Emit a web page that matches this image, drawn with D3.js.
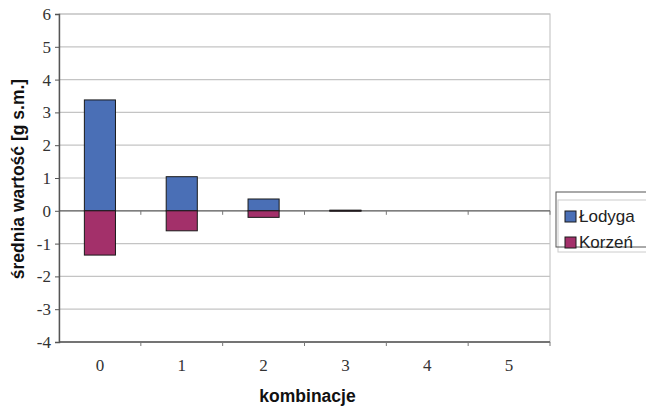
<!DOCTYPE html>
<html lang="pl">
<head>
<meta charset="UTF-8"/>
<title>Średnia wartość</title>
<script src="https://d3js.org/d3.v7.min.js"></script>
<style>
  body { margin: 0; background: #fff; overflow: hidden; }
  svg { display: block; }
  .title { font-family: "Liberation Sans", Arial, sans-serif; font-size: 17.5px; font-weight: bold; fill: #111; }
  .legend text { font-family: "Liberation Sans", Arial, sans-serif; font-size: 17px; fill: #222; }
</style>
</head>
<body>
<svg width="646" height="406"></svg>
<script>
  // data
  const categories = ['0', '1', '2', '3', '4', '5'];
  const lodyga = [3.38, 1.04, 0.36, 0.02, 0, 0];
  const korzen = [-1.35, -0.61, -0.2, -0.01, 0, 0];
  const yTicks = [-4, -3, -2, -1, 0, 1, 2, 3, 4, 5, 6];
  const seriesNames = ['Łodyga', 'Korzeń'];
  const seriesColors = ['#4a6fb6', '#a3306a'];

  const svg = d3.select('svg');

  const plotL = 59, plotR = 550, plotT = 14, plotB = 342;
  const serif = '"Liberation Serif", "Times New Roman", serif';

  const x = d3.scaleBand()
    .domain(categories)
    .range([plotL, plotR])
    .padding(0);

  const y = d3.scaleLinear()
    .domain([-4, 6])
    .range([plotB, plotT]);

  const barW = x.bandwidth() * 0.38;

  // plot area
  svg.append('rect')
    .attr('x', plotL).attr('y', plotT)
    .attr('width', plotR - plotL).attr('height', plotB - plotT)
    .attr('fill', '#fff')
    .attr('stroke', '#bdbdbd');

  // gridlines
  svg.append('g')
    .selectAll('line')
    .data(yTicks)
    .enter()
    .append('line')
    .attr('x1', plotL).attr('x2', plotR)
    .attr('y1', d => y(d)).attr('y2', d => y(d))
    .attr('stroke', (d) => d === 0 ? '#555' : '#c4c4c4')
    .attr('stroke-width', 1.2);

  // y axis
  const yAxis = svg.append('g')
    .attr('transform', `translate(${plotL},0)`)
    .call(d3.axisLeft(y).tickValues(yTicks).tickSize(4).tickPadding(4).tickFormat(d => String(d)));
  yAxis.select('.domain').attr('stroke', '#555').attr('stroke-width', 1.4);
  yAxis.selectAll('.tick line').attr('stroke', '#555');
  yAxis.selectAll('.tick text')
    .style('font-family', serif)
    .style('font-size', '17px')
    .attr('fill', '#333');

  // bottom line and category ticks
  svg.append('line')
    .attr('x1', plotL).attr('x2', plotR)
    .attr('y1', plotB).attr('y2', plotB)
    .attr('stroke', '#555').attr('stroke-width', 1.4);

  const bounds = categories.slice(1).map(c => x(c)).concat([plotR]);
  [y(0), plotB].forEach(yy => {
    svg.append('g')
      .selectAll('line')
      .data(bounds)
      .enter()
      .append('line')
      .attr('x1', d => d).attr('x2', d => d)
      .attr('y1', yy).attr('y2', yy + 4)
      .attr('stroke', '#777');
  });

  svg.append('g')
    .selectAll('text')
    .data(categories)
    .enter()
    .append('text')
    .style('font-family', serif)
    .style('font-size', '17px')
    .attr('fill', '#333')
    .attr('x', d => x(d) + x.bandwidth() / 2)
    .attr('y', 371)
    .attr('text-anchor', 'middle')
    .text(d => d);

  // bars
  const series = [lodyga, korzen];
  series.forEach((vals, s) => {
    svg.append('g')
      .selectAll('rect')
      .data(categories)
      .enter()
      .filter((c, i) => vals[i] !== 0)
      .append('rect')
      .attr('x', c => x(c) + (x.bandwidth() - barW) / 2)
      .attr('y', c => y(Math.max(0, vals[categories.indexOf(c)])))
      .attr('width', barW)
      .attr('height', c => Math.abs(y(vals[categories.indexOf(c)]) - y(0)))
      .attr('fill', seriesColors[s])
      .attr('stroke', '#1a1a1a')
      .attr('stroke-width', 1);
  });

  // axis titles
  svg.append('text')
    .attr('class', 'title')
    .attr('x', (plotL + plotR) / 2 + 3)
    .attr('y', 402)
    .attr('text-anchor', 'middle')
    .text('kombinacje');

  svg.append('text')
    .attr('class', 'title')
    .attr('transform', `translate(24, ${(plotT + plotB) / 2 + 1}) rotate(-90)`)
    .attr('text-anchor', 'middle')
    .text('średnia wartość [g s.m.]');

  // legend
  const legend = svg.append('g').attr('class', 'legend');
  legend.append('rect')
    .attr('x', 558).attr('y', 200).attr('width', 100).attr('height', 52)
    .attr('fill', 'none').attr('stroke', '#ccc');
  legend.append('rect')
    .attr('x', 556).attr('y', 192).attr('width', 100).attr('height', 55)
    .attr('fill', 'none').attr('stroke', '#555');

  seriesNames.forEach((name, i) => {
    const ly = 211 + i * 26;
    legend.append('rect')
      .attr('x', 565).attr('y', ly)
      .attr('width', 11).attr('height', 11)
      .attr('fill', seriesColors[i])
      .attr('stroke', '#1a1a1a');
    legend.append('text')
      .attr('x', 579).attr('y', ly + 11)
      .text(name);
  });
</script>
</body>
</html>
